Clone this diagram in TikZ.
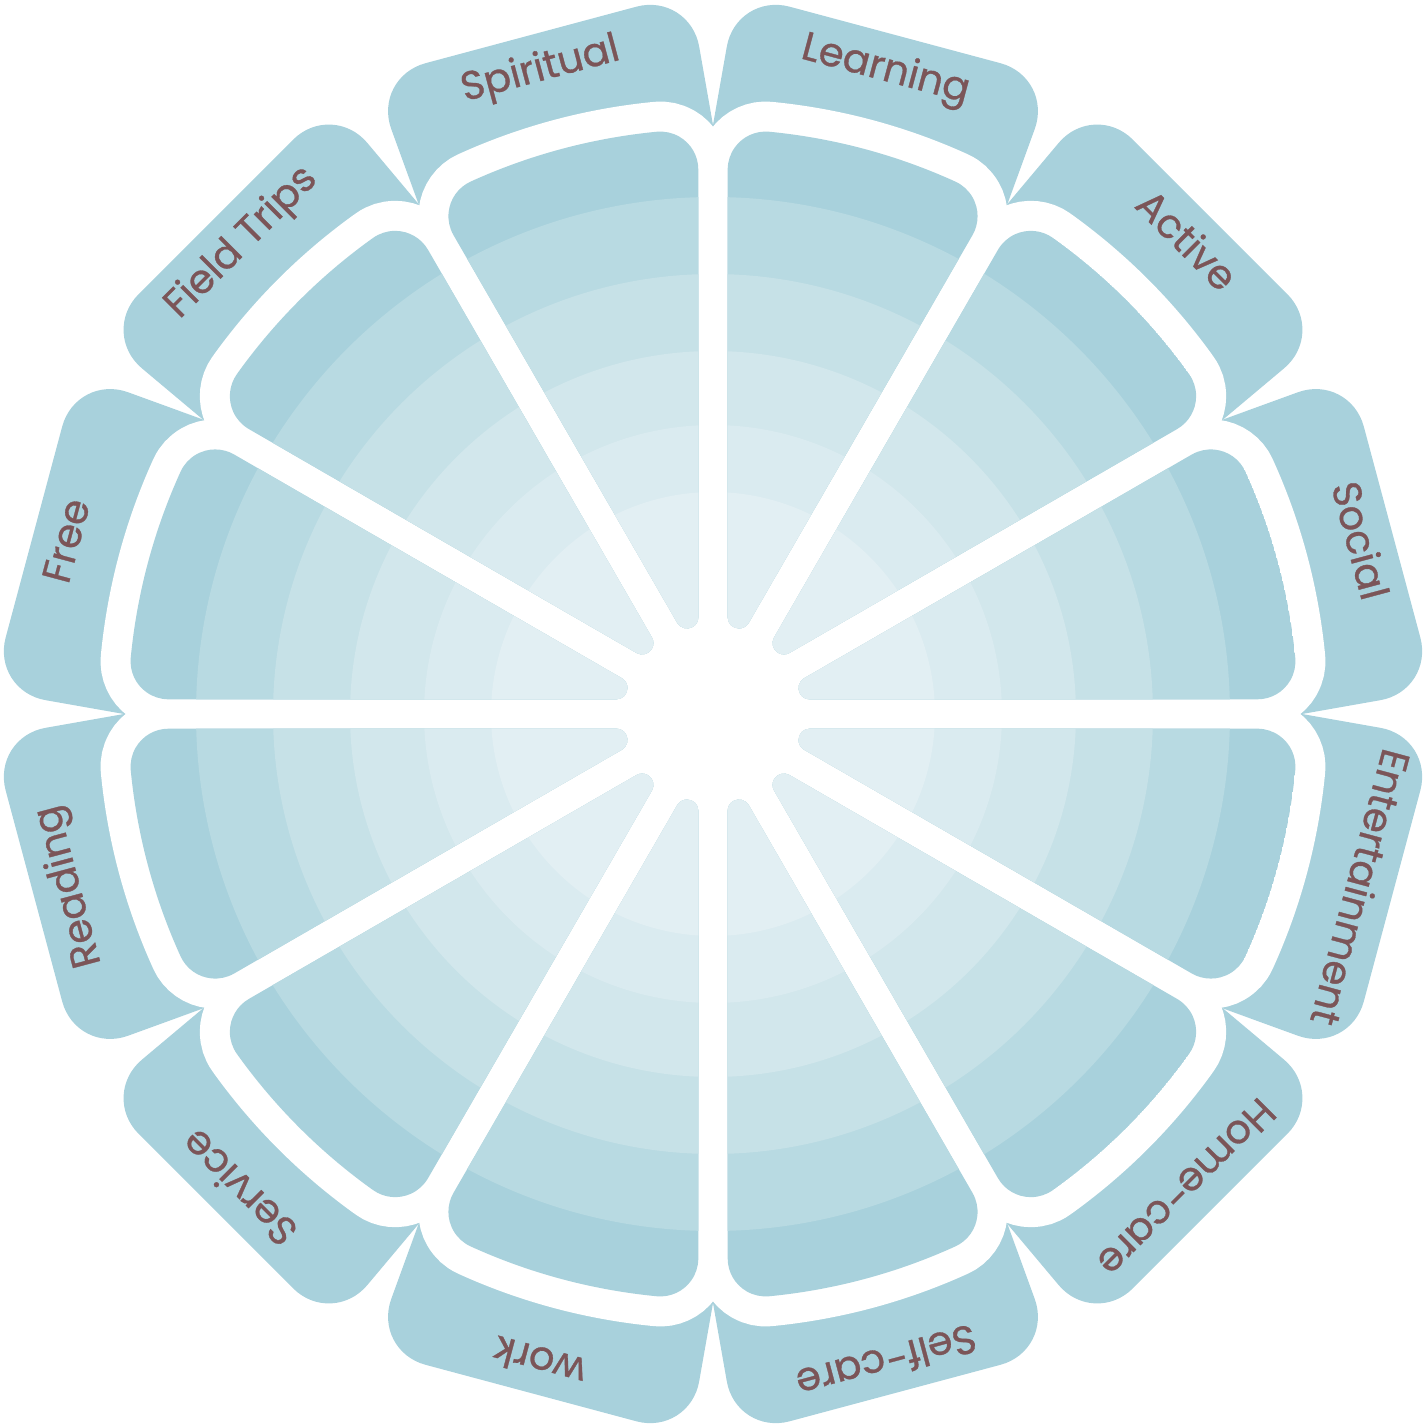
\documentclass[tikz,border=0pt]{standalone}
\usepackage{fontspec}
\setmainfont{Poppins}[FakeBold=0.8]
\usetikzlibrary{calc}

\definecolor{petalblue}{HTML}{A8D1DC}
\definecolor{ringA}{HTML}{A8D1DC}
\definecolor{ringB}{HTML}{B8DAE2}
\definecolor{ringC}{HTML}{C6E1E7}
\definecolor{ringD}{HTML}{D2E7EC}
\definecolor{ringE}{HTML}{DAEBF0}
\definecolor{ringF}{HTML}{E2EFF3}
\definecolor{labelbrown}{HTML}{7B5558}

% one inner wedge, #1 = middle angle
\newcommand\sectorpath[1]{($(#1:100.25)+({#1-105}:11.25)$) -- ($({#1-9.472}:547)+({#1-105}:38)$)
  arc[start angle=#1-105, end angle=#1-9.472, radius=38]
  arc[start angle=#1-9.472, end angle=#1+9.472, radius=585]
  arc[start angle=#1+9.472, end angle=#1+105, radius=38]
  -- ($(#1:100.25)+({#1+105}:11.25)$)
  arc[start angle=#1+105, end angle=#1+255, radius=11.25] -- cycle}

\begin{document}
\begin{tikzpicture}[x=0.5pt, y=0.5pt,
    petal/.style={fill=petalblue},
    ringgap/.style={draw=white, line width=30pt},
    petaltext/.style={text=labelbrown, font=\fontsize{20pt}{24pt}\selectfont, anchor=base, inner sep=0pt}]
  \useasboundingbox (-713,-710) rectangle (710,714);

  % outer petals
  \foreach \m in {15,45,...,345}
    \fill[petal] (\m-15:450) -- (\m-15:589) -- ($(\m-15:589)+(\m-5:79.6)$)
      .. controls ($(\m-15:589)+(\m-5:109.85)$) and ($(\m-15:589)+(\m-5:134.6)+(\m+90:24.75)$)
      .. ($(\m-15:589)+(\m-5:134.6)+(\m+90:55)$)
      -- ($(\m+15:589)+(\m+5:134.6)+(\m-90:55)$)
      .. controls ($(\m+15:589)+(\m+5:134.6)+(\m-90:24.75)$) and ($(\m+15:589)+(\m+5:109.85)$)
      .. ($(\m+15:589)+(\m+5:79.6)$)
      -- (\m+15:589) -- (\m+15:450) -- cycle;

  % white ring and spokes
  \foreach \m in {15,45,...,345}
    \draw[ringgap] \sectorpath{\m};

  % shaded wedges
  \foreach \m in {15,45,...,345} {
    \begin{scope}
      \clip \sectorpath{\m};
      \fill[ringA] (0,0) circle[radius=585];
      \fill[ringB] (0,0) circle[radius=517];
      \fill[ringC] (0,0) circle[radius=440];
      \fill[ringD] (0,0) circle[radius=363];
      \fill[ringE] (0,0) circle[radius=289];
      \fill[ringF] (0,0) circle[radius=222];
    \end{scope}
  }

  % labels
  \foreach \m/\txt [count=\i] in {105/Spiritual, 75/Learning, 45/Active, 15/Social,
      -15/Entertainment, -45/Home-care, -75/Self-care, -105/work,
      -135/Service, -165/Reading, 165/Free, 135/Field Trips}
    \node[petaltext, rotate=\m-90] (lbl\i) at (\m:656) {\txt};
\end{tikzpicture}
\end{document}
